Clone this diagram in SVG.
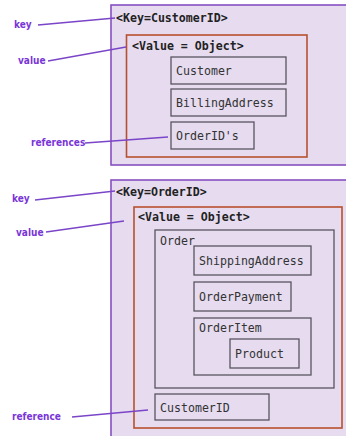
<svg xmlns="http://www.w3.org/2000/svg" width="346" height="436" viewBox="0 0 346 436">
<style>
.outer{fill:#e6dbef;stroke:#8750c0;stroke-width:1.6}
.val{fill:none;stroke:#b8502f;stroke-width:1.6}
.box{fill:none;stroke:#5a5560;stroke-width:1.3}
.hd{font-family:"DejaVu Sans Mono",monospace;font-size:11.6px;font-weight:bold;fill:#222}
.t{font-family:"DejaVu Sans Mono",monospace;font-size:11.6px;fill:#333}
.lb{font-family:"DejaVu Sans Condensed","DejaVu Sans",sans-serif;font-size:10px;font-weight:bold;fill:#7a35d8}
.ln{stroke:#7a45c8;stroke-width:1.4;fill:none}
</style>
<rect width="346" height="436" fill="#ffffff"/>
<g id="customer-entry">
<rect class="outer" x="111" y="5" width="240" height="160"/>
<text class="hd" x="116" y="22">&lt;Key=CustomerID&gt;</text>
<rect class="val" x="126.5" y="35" width="180.5" height="122"/>
<text class="hd" x="132" y="50">&lt;Value = Object&gt;</text>
</g>
<g id="customer"><rect class="box" x="171" y="57" width="115" height="27"/><text class="t" x="176" y="75">Customer</text></g>
<g id="billing"><rect class="box" x="171" y="89" width="115" height="27"/><text class="t" x="176" y="107">BillingAddress</text></g>
<g id="orderids"><rect class="box" x="171" y="122" width="83" height="27"/><text class="t" x="176" y="140">OrderID's</text></g>
<g id="order-entry">
<rect class="outer" x="111" y="180" width="240" height="262"/>
<text class="hd" x="116" y="196">&lt;Key=OrderID&gt;</text>
<rect class="val" x="134" y="207" width="208" height="221"/>
<text class="hd" x="138" y="221">&lt;Value = Object&gt;</text>
</g>
<g id="order"><rect class="box" x="155" y="230" width="179" height="158"/><text class="t" x="160" y="245">Order</text></g>
<g id="shipping"><rect class="box" x="194" y="246" width="117" height="29"/><text class="t" x="199" y="265">ShippingAddress</text></g>
<g id="payment"><rect class="box" x="194" y="282" width="97" height="29"/><text class="t" x="199" y="301">OrderPayment</text></g>
<g id="orderitem"><rect class="box" x="194" y="318" width="117" height="57"/><text class="t" x="199" y="332">OrderItem</text></g>
<g id="product"><rect class="box" x="230" y="339" width="69" height="29"/><text class="t" x="235" y="358">Product</text></g>
<g id="customerid"><rect class="box" x="155" y="394" width="114" height="26"/><text class="t" x="160" y="412">CustomerID</text></g>
<g id="labels">
<text class="lb" x="14" y="28">key</text>
<text class="lb" x="18" y="64">value</text>
<text class="lb" x="31" y="146">references</text>
<text class="lb" x="12" y="202">key</text>
<text class="lb" x="16" y="236">value</text>
<text class="lb" x="12" y="420">reference</text>
</g>
<g id="connectors">
<line class="ln" x1="38" y1="25" x2="115" y2="18"/>
<line class="ln" x1="48" y1="61" x2="126" y2="47"/>
<line class="ln" x1="85" y1="143" x2="168" y2="137"/>
<line class="ln" x1="35" y1="200" x2="115" y2="191"/>
<line class="ln" x1="46" y1="232" x2="124" y2="221"/>
<line class="ln" x1="72" y1="417" x2="148" y2="410"/>
</g>
</svg>
